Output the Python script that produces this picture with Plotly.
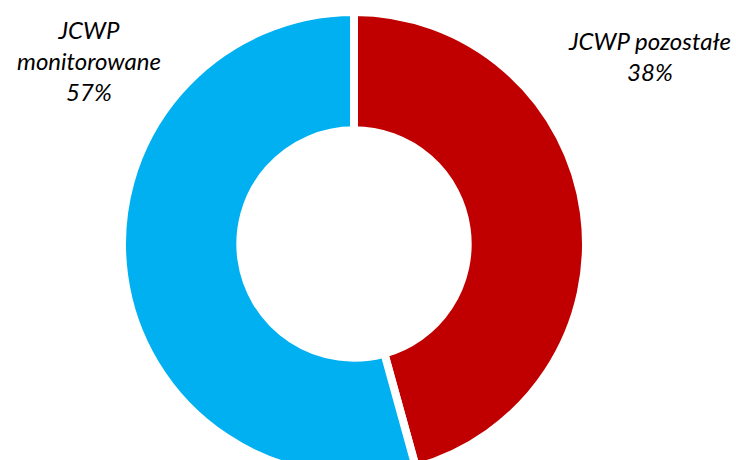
import plotly.graph_objects as go

# Data
categories = ["JCWP pozostałe", "JCWP monitorowane"]
label_pct = ["38%", "57%"]          # percentages printed on the chart
slice_share = [45.7, 54.3]          # slice sizes as drawn in the picture
colors = ["#C00000", "#00B0F0"]

W, H = 736, 480
cx, cy, R = 354, 244, 232  # pixels from top-left

fig = go.Figure(go.Pie(
    labels=categories,
    values=slice_share,
    hole=0.49,
    sort=False,
    direction="clockwise",
    rotation=0,
    textinfo="none",
    hoverinfo="label+percent",
    marker=dict(colors=colors, line=dict(color="white", width=8)),
    domain=dict(x=[(cx - R) / W, (cx + R) / W],
                y=[(H - (cy + R)) / H, (H - (cy - R)) / H]),
    showlegend=False,
))

font = dict(family="Lato, 'Open Sans', sans-serif", size=24, color="#000000")
fig.add_annotation(x=89 / W, y=1 - 60 / H, xref="paper", yref="paper",
                   xanchor="center", yanchor="middle",
                   text=f"<i>JCWP<br>monitorowane<br>{label_pct[1]}</i>",
                   showarrow=False, font=font, align="center")
fig.add_annotation(x=649 / W, y=1 - 56 / H, xref="paper", yref="paper",
                   xanchor="center", yanchor="middle",
                   text=f"<i>{categories[0]}<br>{label_pct[0]}</i>",
                   showarrow=False, font=font, align="center")

fig.update_layout(width=W, height=H, margin=dict(l=0, r=0, t=0, b=0),
                  paper_bgcolor="white", plot_bgcolor="white")

fig.write_html("out.html", config={"displayModeBar": False},
               post_script="document.body.style.overflow='hidden';document.body.style.margin='0';")
